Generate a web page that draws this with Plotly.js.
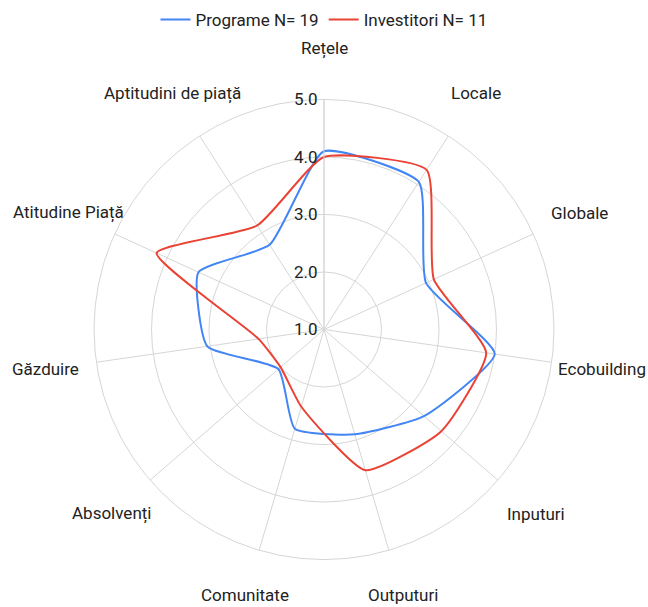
<!DOCTYPE html>
<html>
<head>
<meta charset="utf-8">
<script src="https://cdn.plot.ly/plotly-3.0.1.min.js"></script>
<style>
  html, body { margin: 0; padding: 0; background: #ffffff; }
  #chart { width: 648px; height: 607px; }
</style>
</head>
<body>
<div id="chart"></div>
<script>
// Radar axes, clockwise from the top
const categories = [
  "Rețele", "Locale", "Globale", "Ecobuilding", "Inputuri", "Outputuri",
  "Comunitate", "Absolvenți", "Găzduire", "Atitudine Piață", "Aptitudini de piață"
];

// Mean scores per group
const programeValues    = [4.1, 4.05, 2.95, 4.0, 3.3, 2.9, 2.8, 2.05, 3.05, 3.4, 2.75];
const investitoriValues = [4.0, 4.3, 3.1, 3.85, 3.7, 3.55, 2.4, 2.0, 2.15, 4.2, 3.15];

const seriesNames = ["Programe N= 19", "Investitori N= 11"];

// Radial scale
const radialTicks = [1, 2, 3, 4, 5];

// close each polygon by repeating its first vertex
function closed(arr) { return arr.concat([arr[0]]); }

const FONT = "Roboto, 'Noto Sans', Arial, sans-serif";
const GRID = "#d6d6d6";
const TEXT = "#222222";

const traces = [
  {
    type: "scatterpolar",
    mode: "lines",
    name: seriesNames[0],
    r: closed(programeValues),
    theta: closed(categories),
    line: { color: "#4285f4", width: 2, shape: "spline", smoothing: 0.5 },
    hoverinfo: "skip"
  },
  {
    type: "scatterpolar",
    mode: "lines",
    name: seriesNames[1],
    r: closed(investitoriValues),
    theta: closed(categories),
    line: { color: "#ea4335", width: 2, shape: "spline", smoothing: 0.5 },
    hoverinfo: "skip"
  }
];

const W = 648, H = 607;
const cx = 324, cy = 329.5, R = 230;   // centre and outer radius of the radar, px
const labelRadius = 281;               // category names sit centred on this circle
const edgePad = 12;                    // keep the lowest names inside the canvas

// category names, centred around the outer ring at each spoke's angle
const categoryLabels = categories.map((name, i) => {
  const a = (i * 2 * Math.PI) / categories.length;
  const px = cx + labelRadius * Math.sin(a);
  const py = Math.min(cy - labelRadius * Math.cos(a), H - edgePad);
  return {
    xref: "paper", yref: "paper",
    x: px / W, y: 1 - py / H,
    xanchor: "center", yanchor: "middle",
    text: name,
    showarrow: false,
    font: { family: FONT, size: 17, color: TEXT }
  };
});

const layout = {
  width: W,
  height: H,
  margin: { l: 0, r: 0, t: 0, b: 0 },
  paper_bgcolor: "#ffffff",
  font: { family: FONT, size: 17, color: TEXT },
  showlegend: true,
  legend: {
    orientation: "h",
    x: 0.5,
    xanchor: "center",
    y: 1 - 20 / H,
    yanchor: "middle",
    font: { family: FONT, size: 17, color: TEXT },
    itemwidth: 30
  },
  annotations: categoryLabels,
  polar: {
    domain: {
      x: [(cx - R) / W, (cx + R) / W],
      y: [(H - cy - R) / H, (H - cy + R) / H]
    },
    bgcolor: "#ffffff",
    angularaxis: {
      type: "category",
      categoryorder: "array",
      categoryarray: categories,
      direction: "clockwise",
      rotation: 90,
      showline: true,
      linecolor: GRID,
      linewidth: 1,
      showgrid: true,
      gridcolor: GRID,
      gridwidth: 1,
      ticks: "",
      showticklabels: false
    },
    radialaxis: {
      range: [1, 5],
      tickvals: radialTicks,
      tickformat: ".1f",
      angle: 90,
      tickangle: 90,
      side: "counterclockwise",
      showline: true,
      linecolor: GRID,
      linewidth: 1,
      showgrid: true,
      gridcolor: GRID,
      gridwidth: 1,
      ticks: "",
      tickfont: { family: FONT, size: 17, color: TEXT }
    }
  }
};

Plotly.newPlot("chart", traces, layout, { displayModeBar: false, staticPlot: true });
</script>
</body>
</html>
